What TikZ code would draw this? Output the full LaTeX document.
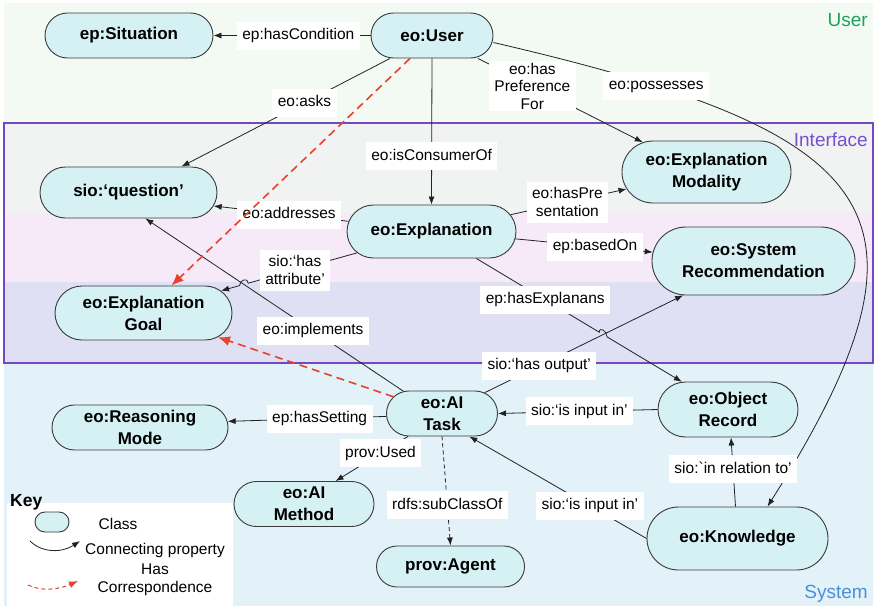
\documentclass[tikz,border=0pt]{standalone}
\usepackage{fontspec}
\setmainfont{Liberation Sans}
\usetikzlibrary{arrows.meta,shapes.misc,calc,intersections}

\definecolor{usrbg}{HTML}{F3FAF3}
\definecolor{ifgray}{HTML}{F1F2F2}
\definecolor{ifpink}{HTML}{F6EAF8}
\definecolor{iflav}{HTML}{E0E0F4}
\definecolor{sysbg}{HTML}{E3F1F9}
\definecolor{ifborder}{HTML}{7447C4}
\definecolor{clsfill}{HTML}{D5F1F4}
\definecolor{clsdraw}{HTML}{3A3A3A}
\definecolor{corr}{HTML}{E8412C}
\definecolor{usrtxt}{HTML}{1FA05C}
\definecolor{iftxt}{HTML}{7A4FCB}
\definecolor{systxt}{HTML}{4A90D9}
\definecolor{edgecol}{HTML}{222222}

\begin{document}
\begin{tikzpicture}[x=1pt,y=-1pt,
  cls/.style={rounded rectangle, draw=clsdraw, fill=clsfill, line width=0.9pt,
    font=\fontsize{17}{22}\selectfont\bfseries, align=center, inner sep=0pt},
  lblbase/.style={fill=white, font=\fontsize{15.5}{17.5}\selectfont,
    inner xsep=5.5pt, align=center},
  lbl/.style={lblbase, inner ysep=6.5pt, text height=11.5pt, text depth=3.5pt},
  lblm/.style={lblbase, inner ysep=6pt},
  edge/.style={draw=edgecol, line width=0.8pt, -{Latex[length=8pt,width=6pt]}},
  subedge/.style={edge, dash pattern=on 4pt off 3pt},
  corrline/.style={draw=corr, line width=1.6pt, dash pattern=on 8pt off 5pt,
    -{Latex[length=12pt,width=10pt]}},
  region/.style={font=\fontsize{19}{22}\selectfont, anchor=base east, inner sep=0pt},
  keytxt/.style={font=\fontsize{15.5}{18}\selectfont, align=center, inner sep=0pt}
]
\useasboundingbox (0,0) rectangle (876,608);

% layer bands
\fill[white] (0,0) rectangle (876,608);
\fill[usrbg] (4,3) rectangle (873,123);
\fill[ifgray] (4,123) rectangle (873,213);
\fill[ifpink] (4,213) rectangle (873,282);
\fill[iflav] (4,282) rectangle (873,363);
\fill[sysbg] (4,363) rectangle (873,606);
\draw[ifborder, line width=1.2pt] (4,123) rectangle (873,363);
\fill[white] (7,503) rectangle (233,606);

\node[region, text=usrtxt] (lbluser) at (868,26) {User};
\node[region, text=iftxt] (lblif) at (868,146) {Interface};
\node[region, text=systxt] (lblsys) at (868,598) {System};

% classes
\node[cls, minimum width=168pt, minimum height=45pt] (situation) at (129,35.5) {ep:Situation};
\node[cls, minimum width=122pt, minimum height=45pt] (user) at (432,35.5) {eo:User};
\node[cls, minimum width=177pt, minimum height=51pt] (question) at (128.5,192.5) {sio:‘question’};
\node[cls, minimum width=169pt, minimum height=62pt] (modality) at (706.5,172) {eo:Explanation\\Modality};
\node[cls, minimum width=169pt, minimum height=53pt] (expl) at (431.5,231.5) {eo:Explanation};
\node[cls, minimum width=203pt, minimum height=68pt] (sysrec) at (753.5,261) {eo:System\\Recommendation};
\node[cls, minimum width=177pt, minimum height=54pt] (goal) at (143.5,313) {eo:Explanation\\Goal};
\node[cls, minimum width=111pt, minimum height=45pt] (task) at (442,413.5) {eo:AI\\Task};
\node[cls, minimum width=140pt, minimum height=55pt] (objrec) at (728,409.5) {eo:Object\\Record};
\node[cls, minimum width=176pt, minimum height=45pt] (reasoning) at (140,427.5) {eo:Reasoning\\Mode};
\node[cls, minimum width=140pt, minimum height=45pt] (aimethod) at (304,504) {eo:AI\\Method};
\node[cls, minimum width=181pt, minimum height=63pt] (knowledge) at (737.5,538.5) {eo:Knowledge};
\node[cls, minimum width=148pt, minimum height=41pt] (agent) at (450.5,566.5) {prov:Agent};

% crossing points that get a small hop
\path[name path=pimpl] (task.150) -- (question.-57);
\path[name path=pattr] (expl.196) -- (goal.16);
\path[name intersections={of=pimpl and pattr, by=hopA}];
\coordinate (hopA1) at ($(hopA)!4.5pt!(expl.196)$);
\coordinate (hopA2) at ($(hopA)!4.5pt!(goal.16)$);
\path[name path=pout] (task.26) -- (sysrec.206);
\path[name path=pexp] (expl.-31) -- (objrec.149);
\path[name intersections={of=pout and pexp, by=hopB}];
\coordinate (hopB1) at ($(hopB)!4.5pt!(expl.-31)$);
\coordinate (hopB2) at ($(hopB)!4.5pt!(objrec.149)$);

% properties
\draw[edge] (user.west) -- node[lbl,pos=0.46]{ep:hasCondition} (situation.east);
\draw[edge] ([xshift=-42pt]user.south) -- node[lbl,pos=0.41]{eo:asks} ([xshift=53pt]question.north);
\draw[edge] (user.south) -- node[lbl,pos=0.67]{eo:isConsumerOf} (expl.north);
\draw[edge] ([xshift=46pt]user.south) -- node[lblm,inner ysep=1.5pt,pos=0.33]{eo:has\\Preference\\For} (modality.155);
\draw[edge] ([yshift=-7pt]user.east) .. controls (883,133) and (954,211) .. ([xshift=30pt]knowledge.north)
  node[lbl,pos=0.16]{eo:possesses};

\draw[edge] (expl.173) -- node[lbl,pos=0.44]{eo:addresses} (question.-9);
\draw[edge] (expl.12) -- node[lblm,pos=0.49]{eo:hasPre\\sentation} (modality.192);
\draw[edge] (expl.-5) -- node[lbl,pos=0.58]{ep:basedOn} (sysrec.175);

\draw[edge] (task.150) -- node[lbl,pos=0.35]{eo:implements} (question.-57);
\draw[edge] (task.26) -- node[lbl,pos=0.275]{sio:‘has output’} (sysrec.206);

\draw[edge] (expl.196) -- node[lblm,pos=0.57]{sio:‘has\\attribute’} (hopA1)
  .. controls ($(hopA1)+(0,-6)$) and ($(hopA2)+(0,-6)$) .. (hopA2) -- (goal.16);
\draw[edge] (expl.-31) -- node[lbl,pos=0.56]{ep:hasExplanans} (hopB1)
  .. controls ($(hopB1)+(0,-6)$) and ($(hopB2)+(0,-6)$) .. (hopB2) -- (objrec.149);

\draw[edge] (objrec.west) -- node[lbl,pos=0.49]{sio:‘is input in’} (task.east);
\draw[edge] (knowledge.west) -- node[lbl,pos=0.32]{sio:‘is input in’} (task.-40);
\draw[edge] ([xshift=-2pt]knowledge.north) -- node[lbl,pos=0.54]{sio:\textasciigrave in relation to’} ([xshift=3pt]objrec.south);
\draw[edge] (task.183) -- node[lbl,pos=0.42]{ep:hasSetting} (reasoning.4);
\draw[edge] (task.214) -- node[lbl,pos=0.38]{prov:Used} (aimethod.36);
\draw[subedge] (task.south) -- node[lbl,pos=0.63]{rdfs:subClassOf} (agent.north);

% correspondences
\draw[corrline] ([xshift=-22pt]user.south) -- ([xshift=28pt]goal.north);
\draw[corrline] (task.161) -- (goal.-18);

% key
\node[font=\fontsize{17.5}{20}\selectfont\bfseries, anchor=base west, inner sep=0pt] (keyttl) at (10,506) {Key};
\node[cls, minimum width=34pt, minimum height=20pt] (keycls) at (52,522) {};
\node[keytxt] (keyclstxt) at (118,524) {Class};
\coordinate (kp1) at (30,541);
\coordinate (kp2) at (80,541);
\draw[edge] (kp1) .. controls (42,553) and (62,553) .. (kp2);
\node[keytxt] (keyproptxt) at (155,550) {Connecting property};
\coordinate (kc1) at (28,585);
\coordinate (kc2) at (78,581);
\draw[corrline, line width=1pt, dash pattern=on 4pt off 3pt, -{Latex[length=9pt,width=7pt]}] (kc1) .. controls (42,592) and (60,589) .. (kc2);
\node[keytxt] (keycorrtxt) at (155,580) {Has\\Correspondence};
\end{tikzpicture}
\end{document}
